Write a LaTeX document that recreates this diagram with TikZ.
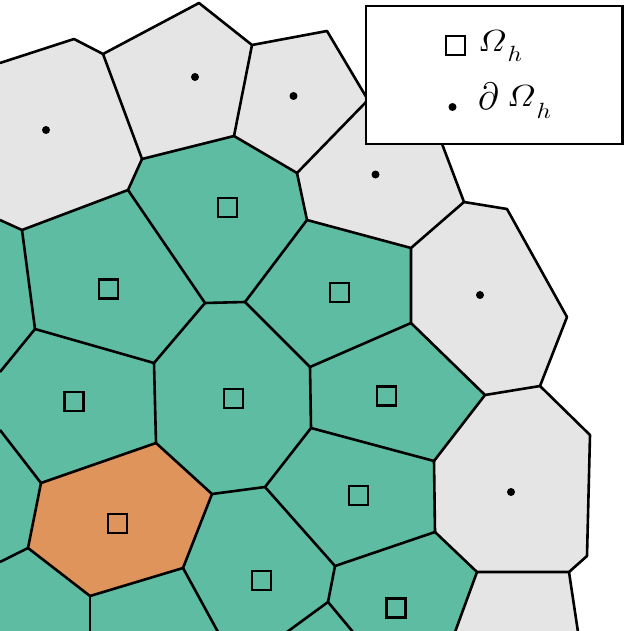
\documentclass[tikz,border=0pt]{standalone}
\usepackage{amsmath}
\usepackage{graphicx}
\definecolor{cellgreen}{HTML}{5DBCA1}
\definecolor{cellorange}{HTML}{DE945B}
\definecolor{cellgray}{HTML}{E5E5E5}
\newcommand\bigOm{\scalebox{3.45}[3.05]{$\varOmega$}}
\newcommand\lowh[1]{\raisebox{-#1}{\scalebox{2.5}[2.2]{$h$}}}
\newcommand\bigpartial{\scalebox{3.5}[3.8]{$\partial$}}
\tikzset{
  gcell/.style={fill=cellgray},
  icell/.style={fill=cellgreen},
  ocell/.style={fill=cellorange},
  edge/.style={line width=2.6pt, line join=round},
  sqmark/.style={draw, line width=2.7pt, minimum size=19pt, inner sep=0pt},
  dotmark/.style={fill, circle, minimum size=8pt, inner sep=0pt},
  legtext/.style={inner sep=0pt, anchor=base west}
}
\begin{document}
\begin{tikzpicture}[x=1pt,y=-1pt]
\useasboundingbox (0,0) rectangle (624,631);
\clip (0,0) rectangle (624,631);
% vertices
\coordinate (A) at (0,63);
\coordinate (B) at (74,39);
\coordinate (C) at (103,54);
\coordinate (D) at (199,3);
\coordinate (E) at (252,45);
\coordinate (F) at (327,31);
\coordinate (G) at (368,100);
\coordinate (G2) at (425,100);
\coordinate (S) at (433,120);
\coordinate (H) at (297,173);
\coordinate (I) at (234,136);
\coordinate (J) at (142,159);
\coordinate (K) at (128,190);
\coordinate (L) at (22,230);
\coordinate (M) at (0,220);
\coordinate (N) at (307,220);
\coordinate (O) at (245,302);
\coordinate (P) at (205,303);
\coordinate (Q) at (411,248);
\coordinate (R) at (464,202);
\coordinate (T) at (507,209);
\coordinate (U) at (567,317);
\coordinate (W) at (540,386);
\coordinate (X) at (485,395);
\coordinate (Y) at (411,323);
\coordinate (Z) at (310,367);
\coordinate (a1) at (154,363);
\coordinate (a2) at (35,329);
\coordinate (a3) at (0,372);
\coordinate (a4) at (156,443);
\coordinate (a5) at (311,428);
\coordinate (a6) at (434,461);
\coordinate (a7) at (590,435);
\coordinate (a8) at (587,556);
\coordinate (a9) at (569,572);
\coordinate (a10) at (477,572);
\coordinate (a11) at (435,532);
\coordinate (a12) at (335,566);
\coordinate (a13) at (265,487);
\coordinate (a14) at (212,494);
\coordinate (a15) at (183,568);
\coordinate (a16) at (90,596);
\coordinate (a17) at (28,548);
\coordinate (a18) at (41,483);
\coordinate (a19) at (0,430);
\coordinate (a20) at (0,562);
\coordinate (a21) at (90,632);
\coordinate (a22) at (218,632);
\coordinate (a23) at (328,602);
\coordinate (a24) at (287,632);
\coordinate (a25) at (353,632);
\coordinate (a26) at (455,632);
\coordinate (a27) at (578,632);
\coordinate (BL) at (0,632);
% boundary cells
\fill[gcell] (A) -- (B) -- (C) -- (J) -- (K) -- (L) -- (M) -- cycle;
\fill[gcell] (C) -- (D) -- (E) -- (I) -- (J) -- cycle;
\fill[gcell] (E) -- (F) -- (G) -- (H) -- (I) -- cycle;
\fill[gcell] (H) -- (G) -- (G2) -- (S) -- (R) -- (Q) -- (N) -- cycle;
\fill[gcell] (R) -- (T) -- (U) -- (W) -- (X) -- (Y) -- (Q) -- cycle;
\fill[gcell] (W) -- (a7) -- (a8) -- (a9) -- (a10) -- (a11) -- (a6) -- (X) -- cycle;
\fill[gcell] (a10) -- (a9) -- (a27) -- (a26) -- cycle;
% interior cells
\fill[icell] (J) -- (I) -- (H) -- (N) -- (O) -- (P) -- (K) -- cycle;
\fill[icell] (L) -- (K) -- (P) -- (a1) -- (a2) -- cycle;
\fill[icell] (N) -- (Q) -- (Y) -- (Z) -- (O) -- cycle;
\fill[icell] (P) -- (O) -- (Z) -- (a5) -- (a13) -- (a14) -- (a4) -- (a1) -- cycle;
\fill[icell] (a2) -- (a1) -- (a4) -- (a18) -- (a19) -- (a3) -- cycle;
\fill[icell] (Z) -- (Y) -- (X) -- (a6) -- (a5) -- cycle;
\fill[icell] (a5) -- (a6) -- (a11) -- (a12) -- (a13) -- cycle;
\fill[icell] (a14) -- (a13) -- (a12) -- (a23) -- (a24) -- (a22) -- (a15) -- cycle;
\fill[icell] (a12) -- (a11) -- (a10) -- (a26) -- (a25) -- (a23) -- cycle;
\fill[icell] (a19) -- (a18) -- (a17) -- (a20) -- cycle;
\fill[icell] (a20) -- (a17) -- (a16) -- (a21) -- (BL) -- cycle;
\fill[icell] (a16) -- (a15) -- (a22) -- (a21) -- cycle;
\fill[icell] (a23) -- (a25) -- (a24) -- cycle;
\fill[icell] (M) -- (L) -- (a2) -- (a3) -- cycle;
\fill[ocell] (a4) -- (a14) -- (a15) -- (a16) -- (a17) -- (a18) -- cycle;
% edges
\draw[edge] (A) -- (B) -- (C) -- (D) -- (E) -- (F) -- (G);
\draw[edge] (C) -- (J) -- (K) -- (L) -- (M);
\draw[edge] (J) -- (I) -- (E);
\draw[edge] (I) -- (H) -- (G);
\draw[edge] (H) -- (N) -- (Q) -- (R) -- (S);
\draw[edge] (R) -- (T) -- (U) -- (W) -- (X) -- (Y) -- (Q);
\draw[edge] (Y) -- (Z) -- (O) -- (N);
\draw[edge] (O) -- (P) -- (K);
\draw[edge] (P) -- (a1) -- (a2) -- (L);
\draw[edge] (a2) -- (a3);
\draw[edge] (a1) -- (a4) -- (a18) -- (a19);
\draw[edge] (a4) -- (a14) -- (a13) -- (a5) -- (Z);
\draw[edge] (a5) -- (a6) -- (X);
\draw[edge] (a6) -- (a11) -- (a12) -- (a13);
\draw[edge] (W) -- (a7) -- (a8) -- (a9) -- (a10) -- (a11);
\draw[edge] (a14) -- (a15) -- (a16) -- (a17) -- (a18);
\draw[edge] (a17) -- (a20);
\draw[edge] (a16) -- (a21);
\draw[edge] (a15) -- (a22);
\draw[edge] (a12) -- (a23) -- (a24);
\draw[edge] (a23) -- (a25);
\draw[edge] (a10) -- (a26);
\draw[edge] (a9) -- (a27);
% interior markers
\node[sqmark] (s1) at (227.5,207.5) {};
\node[sqmark] (s2) at (108.5,289) {};
\node[sqmark] (s3) at (339.5,292.5) {};
\node[sqmark] (s4) at (233.5,398.5) {};
\node[sqmark] (s5) at (74,401.5) {};
\node[sqmark] (s6) at (386.5,396) {};
\node[sqmark] (s7) at (358.5,495.5) {};
\node[sqmark] (s8) at (117.5,523.5) {};
\node[sqmark] (s9) at (261.5,580.5) {};
\node[sqmark] (s10) at (396,608) {};
% boundary markers
\node[dotmark] (d1) at (46,130) {};
\node[dotmark] (d2) at (195,77) {};
\node[dotmark] (d3) at (293.5,96) {};
\node[dotmark] (d4) at (375.5,174.5) {};
\node[dotmark] (d5) at (480,295) {};
\node[dotmark] (d6) at (511,492) {};
% legend
\node[draw, fill=white, line width=2.8pt, minimum width=256.5pt, minimum height=138pt, inner sep=0pt] (legend) at (494.25,75) {};
\node[sqmark] (legsq) at (455.5,45.5) {};
\node[dotmark] (legdot) at (452.5,107) {};
\node[legtext] (legint) at (478,51.7) {\bigOm\hspace{1pt}\lowh{10pt}};
\node[legtext] (legbnd) at (478,109.2) {\bigpartial\hspace{8.5pt}\raisebox{2.5pt}{\bigOm}\hspace{1pt}\lowh{9.8pt}};
\end{tikzpicture}
\end{document}
